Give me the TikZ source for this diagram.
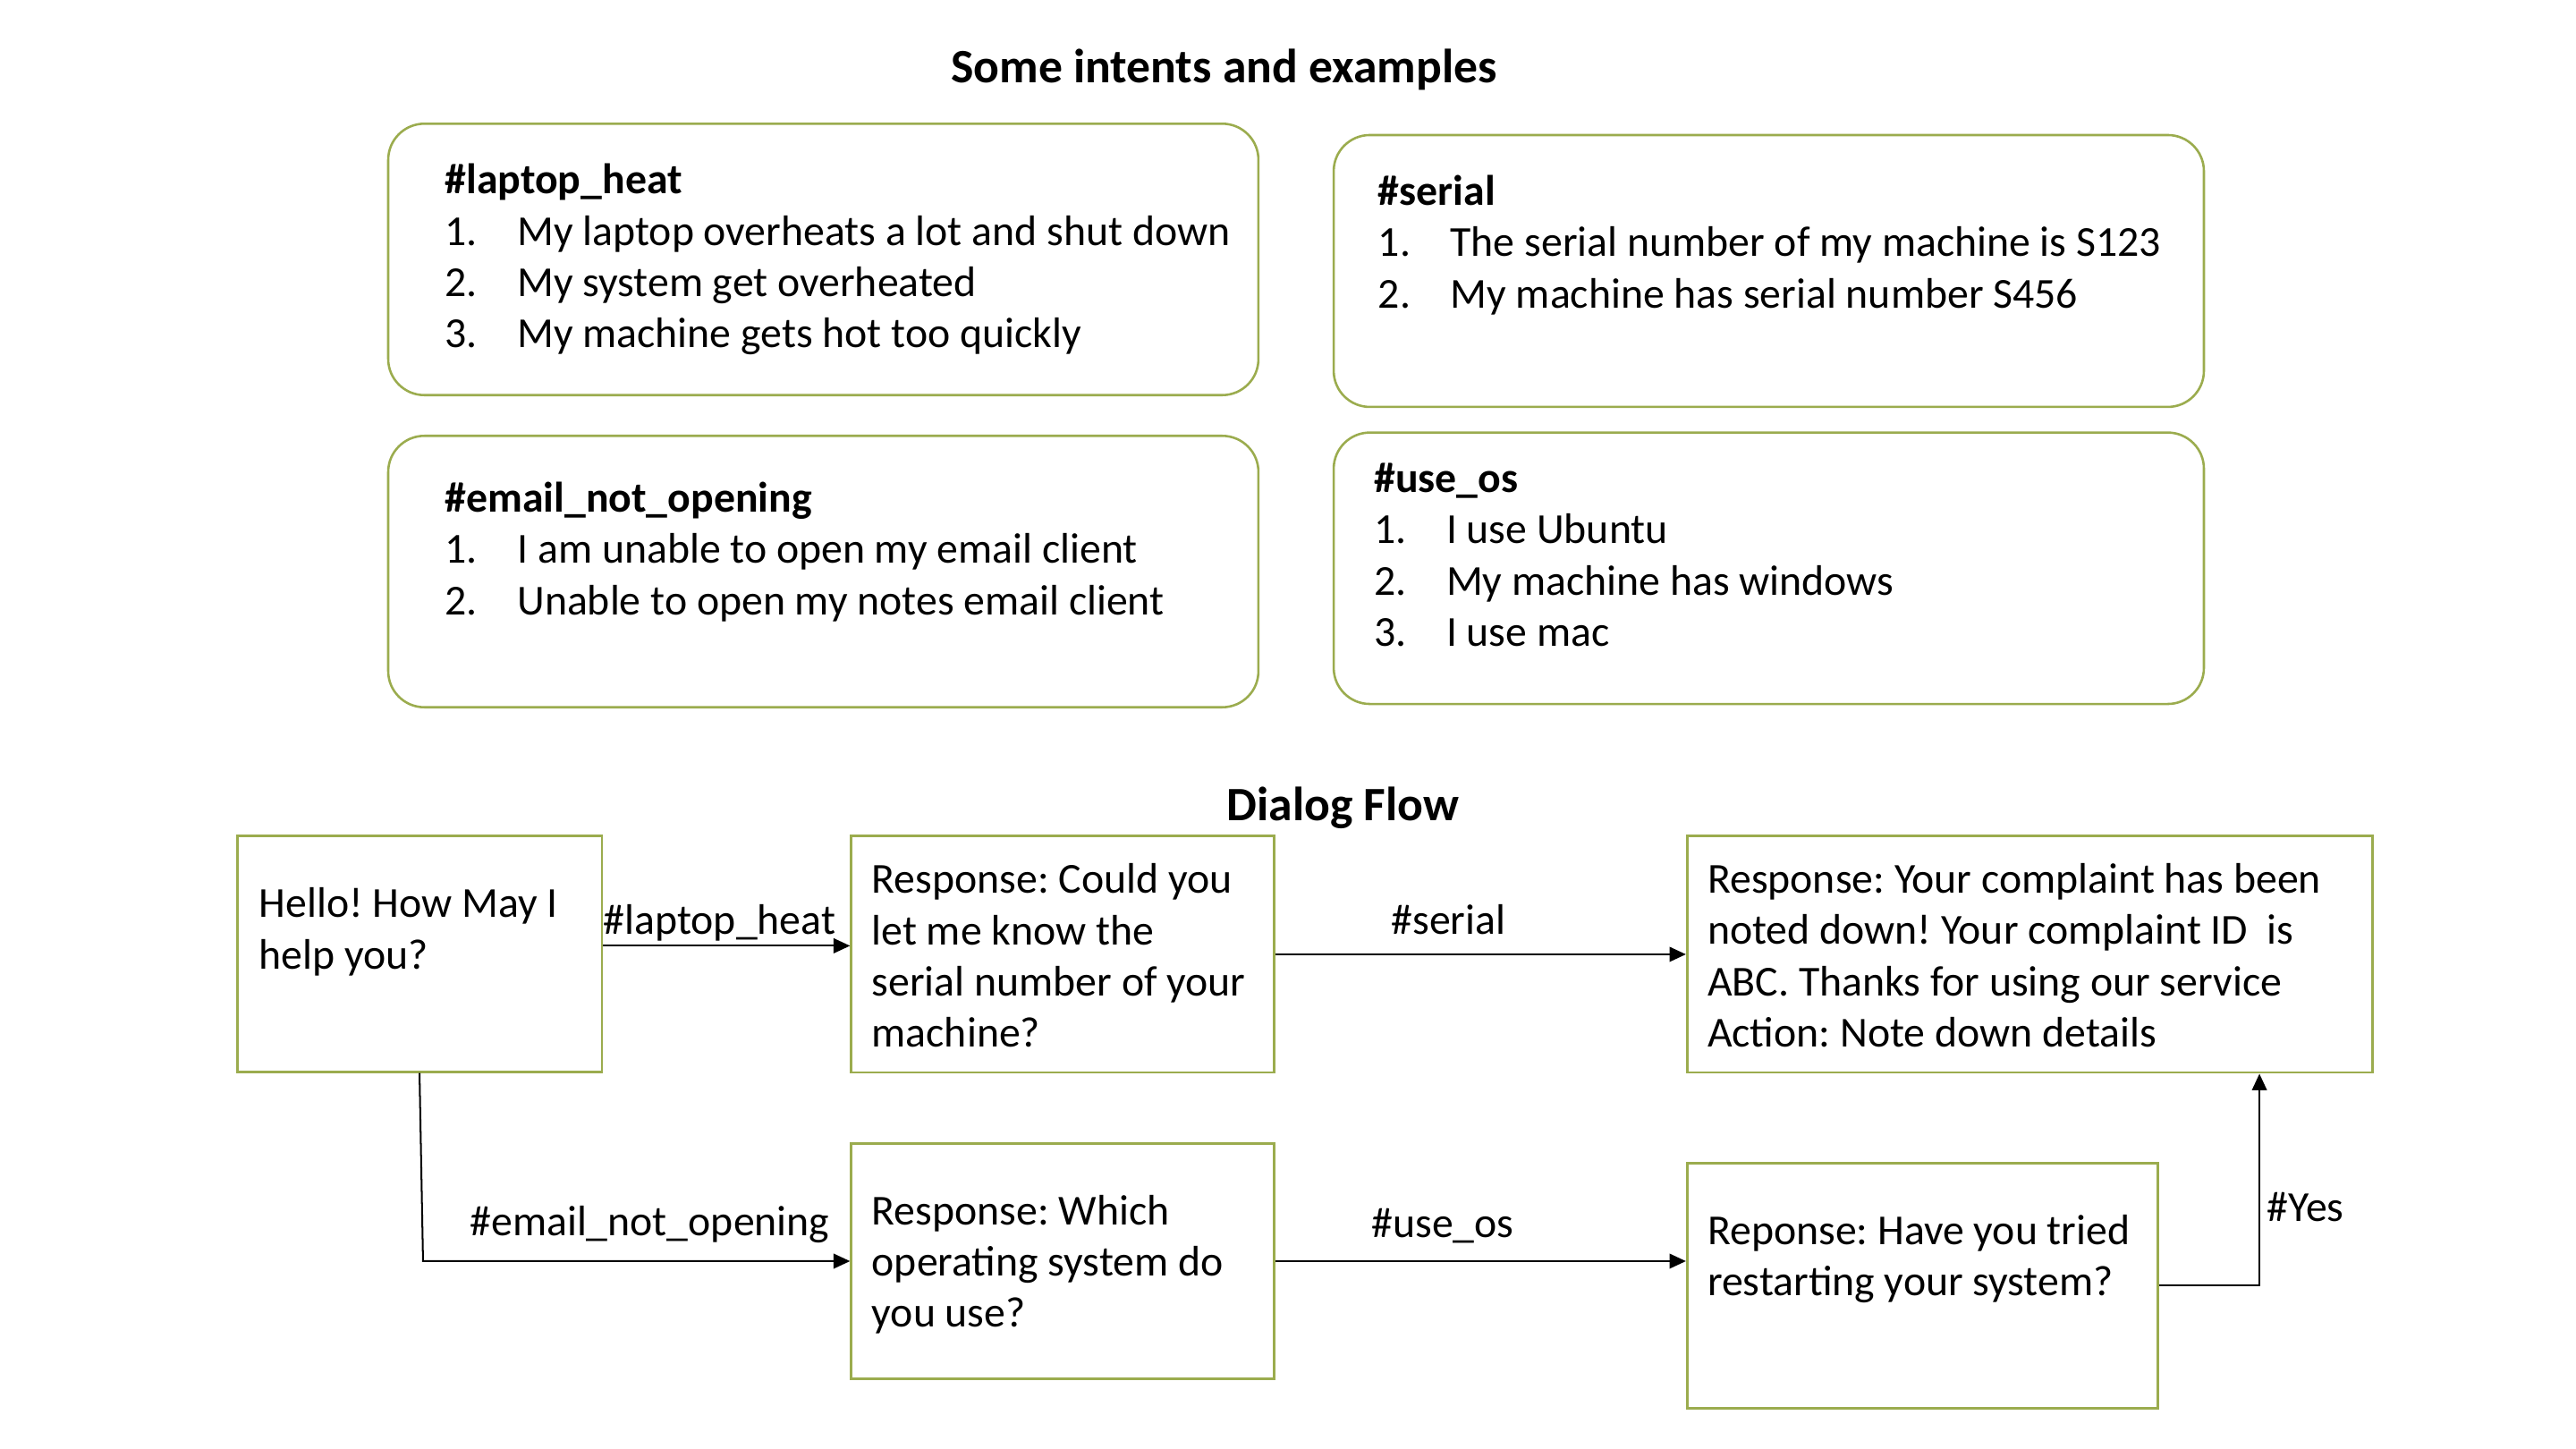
\documentclass[tikz,border=0pt]{standalone}
\usepackage{fontspec}
\setmainfont{Carlito}
\usetikzlibrary{fit,arrows.meta}
\definecolor{olive}{RGB}{155,172,78}
\tikzset{
  ibox/.style={draw=olive, line width=0.7pt, rounded corners=11pt, inner sep=0pt, fill=white},
  fbox/.style={draw=olive, line width=0.8pt, inner sep=0pt, fill=white},
  txt/.style={inner sep=0pt, anchor=base west, font=\fontsize{13}{15.6}\selectfont},
  hdr/.style={txt, font=\fontsize{13}{15.6}\selectfont\bfseries},
  ttl/.style={inner sep=0pt, anchor=base, font=\fontsize{14.6}{17}\selectfont\bfseries},
  arr/.style={line width=0.55pt, -{Triangle[length=5pt,width=4.5pt]}},
  lnk/.style={line width=0.55pt}
}
\newcommand{\itm}[2]{\makebox[22pt][l]{#1}#2}
\frenchspacing
\begin{document}
\begin{tikzpicture}[x=0.5pt,y=-0.5pt]
\useasboundingbox[fill=white] (0,0) rectangle (1568,882);

% titles
\node[ttl] (title1) at (745,50.5) {Some intents and examples};
\node[ttl] (title2) at (817.5,499.5) {Dialog Flow};

% intent boxes
\node[ibox, fit={(236.3,75.3) (766,240.5)}] (i1) {};
\node[ibox, fit={(811.8,82.2) (1341.5,247.7)}] (i2) {};
\node[ibox, fit={(236.3,265.3) (766,430.5)}] (i3) {};
\node[ibox, fit={(811.8,263.3) (1341.5,428.5)}] (i4) {};

\node[hdr] (i1h) at (270.5,117.8) {\#laptop\_heat};
\node[txt] (i1a) at (270.5,149.2) {\itm{1.}{My laptop overheats a lot and shut down}};
\node[txt] (i1b) at (270.5,180.4) {\itm{2.}{My system get overheated}};
\node[txt] (i1c) at (270.5,211.4) {\itm{3.}{My machine gets hot too quickly}};

\node[hdr] (i2h) at (838.5,124.8) {\#serial};
\node[txt] (i2a) at (838.5,156.2) {\itm{1.}{The serial number of my machine is S123}};
\node[txt] (i2b) at (838.5,187.3) {\itm{2.}{My machine has serial number S456}};

\node[hdr] (i3h) at (270.5,311.7) {\#email\_not\_opening};
\node[txt] (i3a) at (270.5,342.9) {\itm{1.}{I am unable to open my email client}};
\node[txt] (i3b) at (270.5,374.1) {\itm{2.}{Unable to open my notes email client}};

\node[hdr] (i4h) at (836,299.7) {\#use\_os};
\node[txt] (i4a) at (836,330.9) {\itm{1.}{I use Ubuntu}};
\node[txt] (i4b) at (836,362.1) {\itm{2.}{My machine has windows}};
\node[txt] (i4c) at (836,393.3) {\itm{3.}{I use mac}};

% flow boxes
\node[fbox, fit={(144.3,509) (366.4,652.3)}] (A) {};
\node[fbox, fit={(518.2,509) (775.7,652.8)}] (B) {};
\node[fbox, fit={(1027,509) (1444,652.8)}] (C) {};
\node[fbox, fit={(518.2,695.9) (775.6,839.4)}] (D) {};
\node[fbox, fit={(1027,708) (1313.3,857)}] (E) {};

\node[txt] (Aa) at (157.4,558.2) {Hello! How May I};
\node[txt] (Ab) at (157.4,589.7) {help you?};

\node[txt] (Ba) at (530.3,543.7) {Response: Could you};
\node[txt] (Bb) at (530.3,575.1) {let me know the};
\node[txt] (Bc) at (530.3,606.2) {serial number of your};
\node[txt] (Bd) at (530.3,637.2) {machine?};

\node[txt] (Ca) at (1039,543.7) {Response: Your complaint has been};
\node[txt] (Cb) at (1039,574.9) {noted down! Your complaint ID~ is};
\node[txt] (Cc) at (1039,606) {ABC. Thanks for using our service};
\node[txt] (Cd) at (1039,637.2) {Action: Note down details};

\node[txt] (Da) at (530.3,745.7) {Response: Which};
\node[txt] (Db) at (530.3,776.9) {operating system do};
\node[txt] (Dc) at (530.3,807.9) {you use?};

\node[txt] (Ea) at (1039,757.5) {Reponse: Have you tried};
\node[txt] (Eb) at (1039,788.5) {restarting your system?};

% connectors
\coordinate (lh) at (0,575.7);
\coordinate (ebend) at (257.5,767.65);
\coordinate (yesx) at (1375.3,0);

\draw[arr] (A.east |- lh) -- (B.west |- lh);
\draw[arr] (B.east) -- (C.west);
\draw[arr] (A.south) -- (ebend) -- (D.west);
\draw[arr] (D.east) -- (E.west |- D.east);
\draw[arr] (E.east) -| (C.south -| yesx);

% connector labels
\node[txt] (l1) at (367,568.5) {\#laptop\_heat};
\node[txt] (l2) at (846.6,568.5) {\#serial};
\node[txt] (l3) at (285.7,752) {\#email\_not\_opening};
\node[txt] (l4) at (834.5,753.5) {\#use\_os};
\node[txt] (l5) at (1379.4,743.3) {\#Yes};
\end{tikzpicture}
\end{document}
